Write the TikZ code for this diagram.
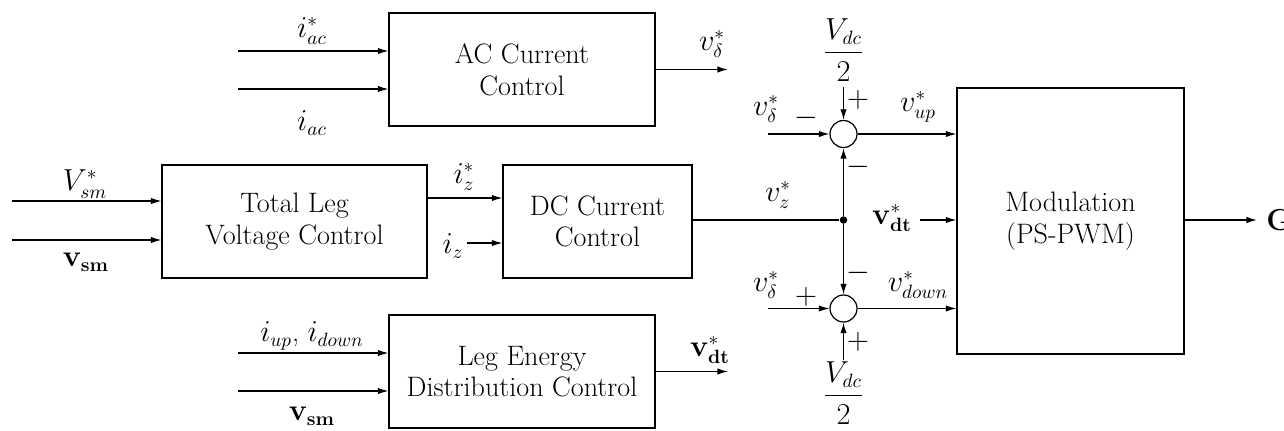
\documentclass[tikz,border=0pt]{standalone}
\usepackage{amsmath}
\usetikzlibrary{arrows.meta}
\begin{document}
\begin{tikzpicture}[x=0.02cm,y=-0.02cm,
  font=\fontsize{16}{18}\selectfont,
  blk/.style={draw, line width=0.7pt, align=center, inner sep=0pt},
  sumnode/.style={draw, circle, line width=0.7pt, minimum size=0.54cm, inner sep=0pt},
  arr/.style={line width=0.7pt, -{Latex[length=6pt,width=3.6pt]}},
  ln/.style={line width=0.7pt},
  lbl/.style={inner sep=0pt},
  dot/.style={circle, fill, inner sep=0pt, minimum size=0.15cm}]
\useasboundingbox (0,0) rectangle (1284,430);

% blocks
\node[blk, minimum width=5.32cm, minimum height=2.26cm] (ac) at (522,69.5) {AC Current\\Control};
\node[blk, minimum width=5.30cm, minimum height=2.26cm] (tlv) at (294.5,221.5) {Total Leg\\Voltage Control};
\node[blk, minimum width=3.78cm, minimum height=2.26cm] (dc) at (597.5,221.5) {DC Current\\Control};
\node[blk, minimum width=5.32cm, minimum height=2.26cm] (leg) at (522,371.5) {Leg Energy\\Distribution Control};
\node[blk, minimum width=4.54cm, minimum height=5.32cm] (mod) at (1070.5,221) {Modulation\\(PS-PWM)};

% sums and junction
\node[sumnode] (s1) at (843.5,134) {};
\node[sumnode] (s2) at (843.5,308.5) {};
\node[dot] (jn) at (843.5,220) {};
\node[inner sep=3pt] (vt) at (843.5,50) {$\dfrac{V_{dc}}{2}$};
\node[inner sep=1pt] (vb) at (843.5,393) {$\dfrac{V_{dc}}{2}$};

% free ends
\coordinate (a1) at (238,51);
\coordinate (a2) at (238,89);
\coordinate (aco) at (728,69.5);
\coordinate (t1) at (12,201);
\coordinate (t2) at (12,240);
\coordinate (iz) at (467,243);
\coordinate (l1) at (238,353);
\coordinate (l2) at (238,391);
\coordinate (lo) at (728,371.5);
\coordinate (d1) at (768,134);
\coordinate (d2) at (768,308.5);
\coordinate (vd) at (920,220);
\coordinate (go) at (1257,220);

% connectors
\draw[arr] (a1) -- (a1 -| ac.west);
\draw[arr] (a2) -- (a2 -| ac.west);
\draw[arr] (ac.east) -- (aco);
\draw[arr] (t1) -- (t1 -| tlv.west);
\draw[arr] (t2) -- (t2 -| tlv.west);
\draw[arr] (tlv.east |- 0,198) -- (dc.west |- 0,198);
\draw[arr] (iz) -- (iz -| dc.west);
\draw[arr] (l1) -- (l1 -| leg.west);
\draw[arr] (l2) -- (l2 -| leg.west);
\draw[arr] (leg.east) -- (lo);
\draw[ln] (dc.east |- jn) -- (jn);
\draw[arr] (jn) -- (s1.south);
\draw[arr] (jn) -- (s2.north);
\draw[arr] (vt.south) -- (s1.north);
\draw[arr] (vb.north) -- (s2.south);
\draw[arr] (d1) -- (s1.west);
\draw[arr] (d2) -- (s2.west);
\draw[arr] (s1.east) -- (s1.east -| mod.west);
\draw[arr] (s2.east) -- (s2.east -| mod.west);
\draw[arr] (vd) -- (vd -| mod.west);
\draw[arr] (mod.east |- go) -- (go);

% labels
\node[lbl] (lac1) at (312,31) {$i_{ac}^{*}$};
\node[lbl] (lac2) at (312,123) {$i_{ac}$};
\node[lbl] (lacd) at (712,44) {$v_{\delta}^{*}$};
\node[lbl] (lvs1) at (85,184) {$V_{sm}^{*}$};
\node[lbl] (lvs2) at (86,262) {$\mathbf{v}_{\mathbf{sm}}$};
\node[lbl] (liz1) at (464,177) {$i_{z}^{*}$};
\node[lbl] (liz2) at (453,246) {$i_{z}$};
\node[lbl] (lvz) at (778,195) {$v_{z}^{*}$};
\node[lbl] (lud) at (766,109) {$v_{\delta}^{*}$};
\node[lbl] (ldd) at (766,285) {$v_{\delta}^{*}$};
\node[lbl] (m1) at (806,118) {$-$};
\node[lbl] (p1) at (858,100) {$+$};
\node[lbl] (m2) at (858,167) {$-$};
\node[lbl] (m3) at (858,273) {$-$};
\node[lbl] (p2) at (806,297) {$+$};
\node[lbl] (p3) at (858,342) {$+$};
\node[lbl] (lup) at (918,107) {$v_{up}^{*}$};
\node[lbl] (ldn) at (918,285) {$v_{down}^{*}$};
\node[lbl] (ldt) at (892,218) {$\mathbf{v}_{\mathbf{dt}}^{*}$};
\node[lbl] (lleg) at (710,350) {$\mathbf{v}_{\mathbf{dt}}^{*}$};
\node[lbl] (liu) at (312,336) {$i_{up}$, $i_{down}$};
\node[lbl] (lvs3) at (312,416) {$\mathbf{v}_{\mathbf{sm}}$};
\node[lbl, anchor=west] (lg) at (1266,220) {$\mathbf{G}$};
\end{tikzpicture}
\end{document}
